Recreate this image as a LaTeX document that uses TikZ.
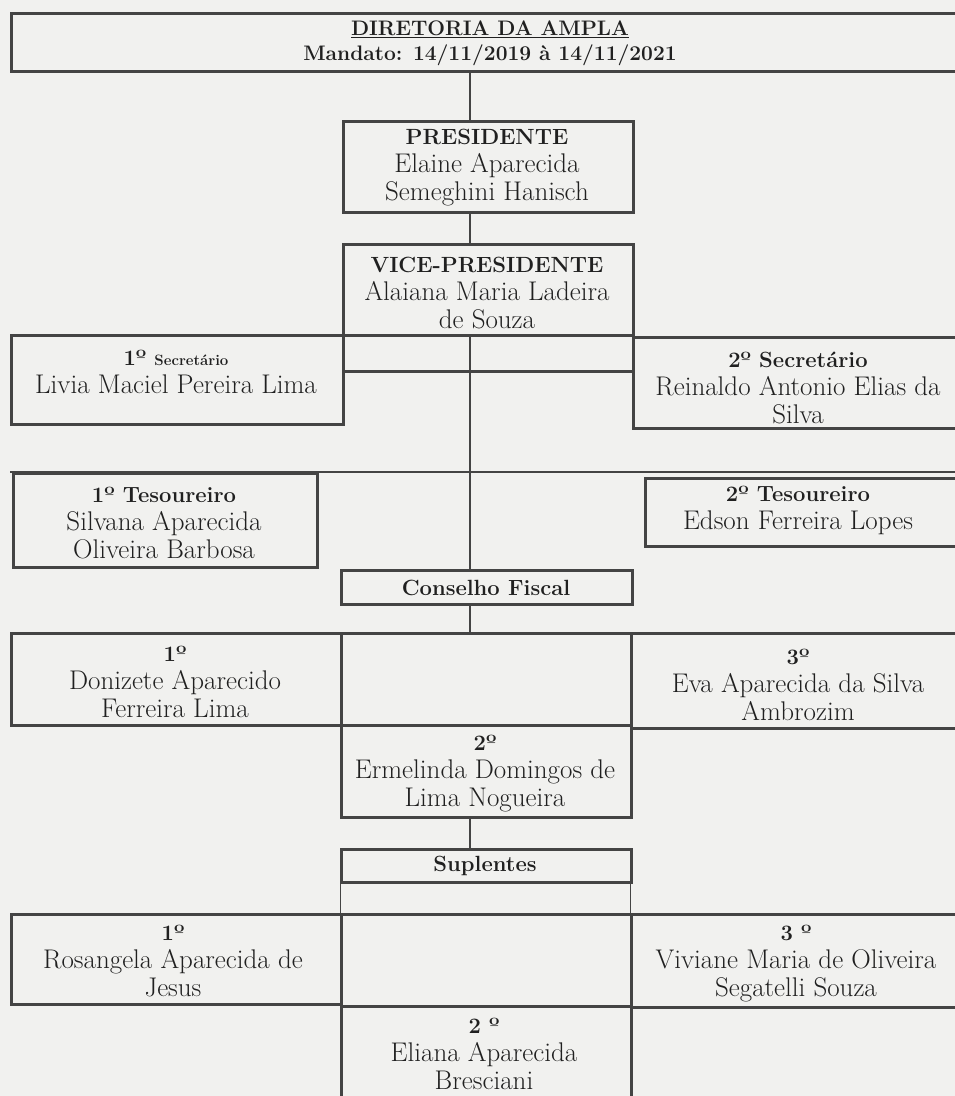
\documentclass[tikz,border=0pt]{standalone}
\definecolor{inkc}{RGB}{68,68,68}
\definecolor{txtc}{RGB}{32,32,32}
\definecolor{paper}{RGB}{241,241,239}
\newcommand\hdr[1]{{\fontsize{22}{27}\selectfont\bfseries #1}}
\newcommand\ttl[1]{{\fontsize{21}{25}\selectfont\bfseries #1}}
\begin{document}
\begin{tikzpicture}[x=1pt,y=-1pt,
  cell/.style={draw=inkc, line width=2.5pt, rectangle, inner sep=0pt, anchor=north west},
  thincell/.style={draw=inkc, line width=1pt, rectangle, inner sep=0pt, anchor=north west},
  ln/.style={draw=inkc, line width=2pt},
  hl/.style={draw=inkc, line width=2.5pt},
  txt/.style={align=center, text=txtc, font=\fontsize{27}{28}\selectfont, inner sep=0pt},
]
\fill[paper] (0,0) rectangle (955,1096);
\useasboundingbox (0,0) rectangle (955,1096);
\coordinate (spx) at (470,0);

% title
\node[cell, minimum width=960pt, minimum height=58pt] (top) at (10,12) {};
\node[txt] (top-t) at (490,43) {\ttl{\underline{DIRETORIA DA AMPLA}}\\[-3pt]\ttl{Mandato: 14/11/2019 à 14/11/2021}};

% president
\node[cell, minimum width=290pt, minimum height=91pt] (pres) at (342,120) {};
\node[txt] (pres-t) at (487,168) {\hdr{PRESIDENTE}\\Elaine Aparecida\\Semeghini Hanisch};

% vice president
\node[cell, minimum width=290pt, minimum height=91pt] (vp) at (342,243) {};
\node[txt] (vp-t) at (487,293) {\hdr{VICE-PRESIDENTE}\\Alaiana Maria Ladeira\\de Souza};
\node[cell, minimum width=290pt, minimum height=36pt] (gap) at (342,334) {};

% secretaries
\node[cell, minimum width=332pt, minimum height=89pt] (sec1) at (10,334) {};
\node[txt] (sec1-t) at (176,372) {\hdr{1º} {\fontsize{15}{18}\selectfont\bfseries Secretário}\\Livia Maciel Pereira Lima};
\node[cell, minimum width=340pt, minimum height=91pt] (sec2) at (632,336) {};
\node[txt] (sec2-t) at (798,388) {\hdr{2º Secretário}\\Reinaldo Antonio Elias da\\Silva};

% treasurers
\coordinate (tw) at (10,472);
\coordinate (te) at (972,472);
\draw[hl] (tw) -- (te);
\node[cell, minimum width=304pt, minimum height=94pt] (tes1) at (12,472) {};
\node[txt] (tes1-t) at (164,523) {\hdr{1º Tesoureiro}\\Silvana Aparecida\\Oliveira Barbosa};
\node[cell, minimum width=330pt, minimum height=68pt] (tes2) at (644,477) {};
\node[txt] (tes2-t) at (798,510) {\hdr{2º Tesoureiro}\\Edson Ferreira Lopes};

% conselho fiscal
\node[cell, minimum width=291pt, minimum height=34pt] (cf) at (340,569) {};
\node[txt] (cf-t) at (486,588) {\hdr{Conselho Fiscal}};

\node[cell, minimum width=330pt, minimum height=92pt] (cf1) at (10,632) {};
\node[txt] (cf1-t) at (175,682) {\hdr{1º}\\Donizete Aparecido\\Ferreira Lima};
\node[cell, minimum width=290pt, minimum height=92pt] (cfm) at (340,632) {};
\node[cell, minimum width=340pt, minimum height=95pt] (cf3) at (630,632) {};
\node[txt] (cf3-t) at (798,685) {\hdr{3º}\\Eva Aparecida da Silva\\Ambrozim};
\node[cell, minimum width=290pt, minimum height=92pt] (cf2) at (340,724) {};
\node[txt] (cf2-t) at (485,774) {\hdr{2º}\\Ermelinda Domingos de\\Lima Nogueira};

% suplentes
\node[cell, minimum width=290pt, minimum height=33pt] (sup) at (340,848) {};
\node[txt] (sup-t) at (485,866) {\hdr{Suplentes}};
\node[thincell, minimum width=290pt, minimum height=32pt] (supgap) at (340,881) {};

\node[cell, minimum width=330pt, minimum height=90pt] (s1) at (10,913) {};
\node[txt] (s1-t) at (173,961) {\hdr{1º}\\Rosangela Aparecida de\\Jesus};
\node[cell, minimum width=290pt, minimum height=92pt] (sm) at (340,913) {};
\node[cell, minimum width=340pt, minimum height=93pt] (s3) at (630,913) {};
\node[txt] (s3-t) at (796,964) {\hdr{3 º}\\Viviane Maria de Oliveira\\Segatelli Souza};
\node[cell, minimum width=290pt, minimum height=100pt] (s2) at (340,1005) {};
\node[txt] (s2-t) at (484,1054) {\hdr{2 º}\\Eliana Aparecida\\Bresciani};

% connectors
\draw[ln] (spx |- top.south) -- (spx |- pres.north);
\draw[ln] (spx |- pres.south) -- (spx |- vp.north);
\draw[ln] (spx |- vp.south) -- (spx |- cf.north);
\draw[ln] (spx |- cf.south) -- (spx |- cfm.north);
\draw[ln] (spx |- cf2.south) -- (spx |- sup.north);
\end{tikzpicture}
\end{document}
